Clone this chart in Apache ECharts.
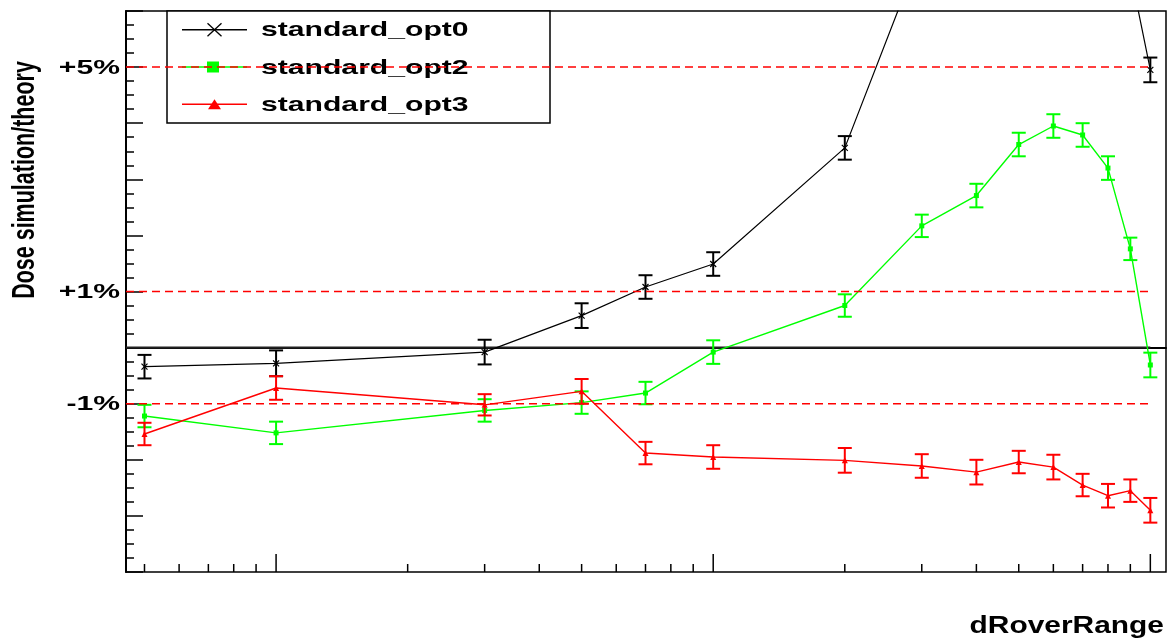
<!DOCTYPE html>
<html><head><meta charset="utf-8">
<script src="https://cdn.jsdelivr.net/npm/echarts@6/dist/echarts.min.js"></script>
<style>html,body{margin:0;padding:0;background:#fff;}#c{width:1169px;height:638px;}</style>
</head><body><div id="c"></div>
<script>
// ---- data ----
const X_VALUES = [0.05, 0.1, 0.3, 0.5, 0.7, 1, 2, 3, 4, 5, 6, 7, 8, 9, 10];
const SERIES_NAMES = ['standard_opt0', 'standard_opt2', 'standard_opt3'];
// deviation of dose simulation/theory, in %
const OPT0 = [-0.34, -0.28, -0.08, 0.57, 1.08, 1.49, 3.56, 7.1, 8.6, 9.6, 10.1, 9.8, 8.7, 6.7, 4.95];
const OPT0_ERR = [0.21, 0.23, 0.22, 0.22, 0.21, 0.21, 0.21, 0.22, 0.22, 0.22, 0.22, 0.22, 0.22, 0.22, 0.22];
const OPT2 = [-1.22, -1.52, -1.12, -0.98, -0.81, -0.08, 0.75, 2.17, 2.71, 3.62, 3.95, 3.79, 3.20, 1.76, -0.31];
const OPT2_ERR = [0.2, 0.2, 0.2, 0.2, 0.2, 0.21, 0.2, 0.2, 0.21, 0.21, 0.21, 0.21, 0.21, 0.2, 0.22];
const OPT3 = [-1.54, -0.72, -1.02, -0.78, -1.88, -1.95, -2.01, -2.11, -2.22, -2.04, -2.13, -2.45, -2.64, -2.55, -2.90];
const OPT3_ERR = [0.2, 0.21, 0.19, 0.22, 0.2, 0.21, 0.22, 0.21, 0.22, 0.2, 0.22, 0.2, 0.21, 0.2, 0.22];
const REF_DASHED = [5, 1, -1];
const REF_SOLID = [0];
const Y_LABEL_VALUES = [5, 1, -1];
const Y_LABELS = ['+5%', '+1%', '-1%'];
const X_MAJOR_TICKS = [0.1, 1, 10];
const X_MINOR_TICKS = [0.05, 0.06, 0.07, 0.08, 0.09, 0.2, 0.3, 0.4, 0.5, 0.6, 0.7, 0.8, 0.9, 2, 3, 4, 5, 6, 7, 8, 9];
const X_MIN = 0.04536, X_MAX = 10.86;
const Y_MIN = -4, Y_MAX = 6;
const Y_TITLE = 'Dose simulation/theory';
const X_TITLE = 'dRoverRange';

// ---- styles ----
const COLORS = ['#000000', '#00ff00', '#ff0000'];
const FONT = 'bold 20.5px "Liberation Sans", Arial, sans-serif';
const SX = 1.47;

const chart = echarts.init(document.getElementById('c'), null, {renderer: 'canvas'});

function pts(vals) { return X_VALUES.map((x, i) => [x, vals[i]]); }
function errPts(vals, errs) { return X_VALUES.map((x, i) => [x, vals[i], errs[i]]); }

function errRender(color) {
  return function (params, api) {
    const x = api.value(0), y = api.value(1), e = api.value(2);
    const t = api.coord([x, y + e]), b = api.coord([x, y - e]);
    const hw = 7;
    const st = {stroke: color, lineWidth: 2};
    return {type: 'group', children: [
      {type: 'line', shape: {x1: t[0], y1: t[1], x2: b[0], y2: b[1]}, style: st},
      {type: 'line', shape: {x1: t[0] - hw, y1: t[1], x2: t[0] + hw, y2: t[1]}, style: st},
      {type: 'line', shape: {x1: b[0] - hw, y1: b[1], x2: b[0] + hw, y2: b[1]}, style: st}
    ]};
  };
}

function refRender(dashed) {
  return function (params, api) {
    const p1 = api.coord([api.value(0), api.value(1)]);
    const p2 = api.coord([api.value(2), api.value(1)]);
    return {type: 'line', shape: {x1: p1[0], y1: p1[1], x2: p2[0], y2: p2[1]},
      style: dashed ? {stroke: '#ff0000', lineWidth: 1.5, lineDash: [8, 5]} : {stroke: '#222', lineWidth: 2}};
  };
}

function tickRender(len) {
  return function (params, api) {
    const p = api.coord([api.value(0), api.value(1)]);
    return {type: 'line', shape: {x1: p[0], y1: p[1], x2: p[0], y2: p[1] - len},
      style: {stroke: '#000', lineWidth: 1.5}};
  };
}

function yLabelRender(params, api) {
  const p = api.coord([api.value(0), api.value(1)]);
  return {type: 'text', x: p[0] - 6, y: p[1] + 1, scaleX: SX,
    style: {text: Y_LABELS[params.dataIndex], font: FONT, fill: '#000', align: 'right', verticalAlign: 'middle'}};
}

const lastX = X_VALUES[X_VALUES.length - 1];
const symbols = ['path://M0,0L10,10M10,0L0,10', 'rect', 'triangle'];
const symSizes = [6, 5, 6];
const vals = [OPT0, OPT2, OPT3];
const errs = [OPT0_ERR, OPT2_ERR, OPT3_ERR];

const series = [
  {type: 'custom', name: 'ref-solid', renderItem: refRender(false), data: REF_SOLID.map(v => [X_MIN, v, lastX]),
    encode: {x: 0, y: 1}, z: 3, silent: true},
];
for (let k = 0; k < 3; k++) {
  series.push({
    type: 'line', name: SERIES_NAMES[k], data: pts(vals[k]), clip: true,
    symbol: symbols[k], symbolSize: symSizes[k], showSymbol: true, showAllSymbol: true,
    lineStyle: {color: COLORS[k], width: k === 0 ? 1.2 : 1.4},
    itemStyle: {color: COLORS[k], borderColor: COLORS[k], borderWidth: k === 0 ? 1.2 : 0},
    z: 4 + k * 2
  });
  series.push({
    type: 'custom', name: SERIES_NAMES[k] + ' errors', renderItem: errRender(COLORS[k]),
    data: errPts(vals[k], errs[k]), encode: {x: 0, y: 1}, clip: true, z: 5 + k * 2, silent: true
  });
}
series.push(
  {type: 'custom', name: 'ref-dashed', renderItem: refRender(true), data: REF_DASHED.map(v => [X_MIN, v, lastX]),
    encode: {x: 0, y: 1}, z: 20, silent: true},
  {type: 'custom', name: 'x-major-ticks', renderItem: tickRender(18), data: X_MAJOR_TICKS.map(v => [v, Y_MIN]),
    encode: {x: 0, y: 1}, z: 21, silent: true, clip: false},
  {type: 'custom', name: 'x-minor-ticks', renderItem: tickRender(8), data: X_MINOR_TICKS.map(v => [v, Y_MIN]),
    encode: {x: 0, y: 1}, z: 21, silent: true, clip: false},
  {type: 'custom', name: 'y-labels', renderItem: yLabelRender, data: Y_LABEL_VALUES.map(v => [X_MIN, v]),
    encode: {x: 0, y: 1}, z: 21, silent: true, clip: false}
);

// legend drawn as a framed box (ROOT TLegend style)
const LEG = {x: 167, y: 11, w: 383, h: 112};
const rowH = LEG.h / 3;
const legChildren = [
  {type: 'rect', shape: {x: LEG.x, y: LEG.y, width: LEG.w, height: LEG.h},
    style: {fill: '#fff', stroke: '#000', lineWidth: 1.5}}
];
for (let k = 0; k < 3; k++) {
  const cy = LEG.y + rowH * (k + 0.5);
  legChildren.push({type: 'line', shape: {x1: 182, y1: cy, x2: 247, y2: cy}, style: {stroke: COLORS[k], lineWidth: 1.5}});
  if (k === 0) {
    legChildren.push({type: 'line', shape: {x1: 207.5, y1: cy - 6.5, x2: 221.5, y2: cy + 6.5}, style: {stroke: '#000', lineWidth: 1.3}});
    legChildren.push({type: 'line', shape: {x1: 207.5, y1: cy + 6.5, x2: 221.5, y2: cy - 6.5}, style: {stroke: '#000', lineWidth: 1.3}});
  } else if (k === 1) {
    legChildren.push({type: 'rect', shape: {x: 207, y: cy - 5.5, width: 12, height: 11}, style: {fill: COLORS[k]}});
  } else {
    legChildren.push({type: 'polygon', shape: {points: [[208, cy + 5], [221, cy + 5], [214.5, cy - 5]]}, style: {fill: COLORS[k]}});
  }
  legChildren.push({type: 'text', x: 261, y: cy + 1, scaleX: SX,
    style: {text: SERIES_NAMES[k], font: FONT, fill: '#000', align: 'left', verticalAlign: 'middle'}});
}

const option = {
  animation: false,
  backgroundColor: '#ffffff',
  grid: {left: 126, right: 3, top: 11, bottom: 66, show: true, borderColor: '#000', borderWidth: 1.5, backgroundColor: 'transparent'},
  xAxis: {
    type: 'log', logBase: 10, min: X_MIN, max: X_MAX,
    axisLine: {show: true, lineStyle: {color: '#000', width: 2}},
    axisTick: {show: false}, axisLabel: {show: false}, splitLine: {show: false}, minorTick: {show: false}
  },
  yAxis: {
    type: 'value', min: Y_MIN, max: Y_MAX, interval: 1,
    axisLine: {show: true, lineStyle: {color: '#000', width: 2}},
    axisTick: {show: true, inside: true, length: 17, lineStyle: {color: '#000', width: 1.5}},
    minorTick: {show: true, splitNumber: 4, length: 8, lineStyle: {color: '#000', width: 1.5}},
    axisLabel: {show: false}, splitLine: {show: false}, minorSplitLine: {show: false}
  },
  graphic: [
    {type: 'group', z: 1, children: legChildren},
    {type: 'text', x: 26, y: 180, rotation: Math.PI / 2, scaleY: 1.42, z: 30,
      style: {text: Y_TITLE, font: 'bold 21.5px "Liberation Sans", Arial, sans-serif', fill: '#000', align: 'center', verticalAlign: 'middle'}},
    {type: 'text', x: 1164, y: 627, scaleX: 1.3, z: 30,
      style: {text: X_TITLE, font: 'bold 23px "Liberation Sans", Arial, sans-serif', fill: '#000', align: 'right', verticalAlign: 'middle'}}
  ],
  series: series
};
chart.setOption(option);
</script></body></html>
